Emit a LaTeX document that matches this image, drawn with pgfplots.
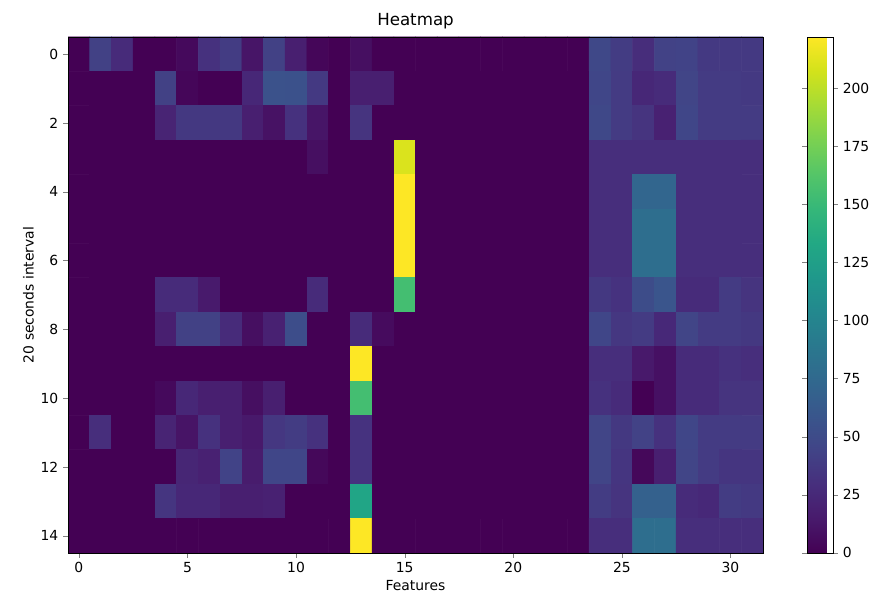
\documentclass[border=0pt]{standalone}
\usepackage{fontspec}
\setmainfont{DejaVu Sans}
\usepackage{pgfplots}
\pgfplotsset{compat=1.18}
\pgfplotsset{colormap={mplviridis}{
  rgb255=(68,1,84) rgb255=(72,26,108) rgb255=(71,47,125) rgb255=(65,68,135)
  rgb255=(57,86,140) rgb255=(49,104,142) rgb255=(42,120,142) rgb255=(35,136,142)
  rgb255=(31,152,139) rgb255=(34,168,132) rgb255=(53,183,121) rgb255=(84,197,104)
  rgb255=(122,209,81) rgb255=(165,219,54) rgb255=(210,226,27) rgb255=(253,231,37)}}
\begin{document}
\begin{tikzpicture}
\path[use as bounding box] (-49pt,-36pt) rectangle (579.6pt,398.1pt);
\begin{axis}[
  at={(0pt,0pt)}, anchor=south west,
  scale only axis, width=500.4pt, height=371.5pt,
  xmin=-0.5, xmax=31.5, ymin=-0.5, ymax=14.5,
  y dir=reverse, enlargelimits=false,
  axis on top,
  xtick={0,5,...,30}, ytick={0,2,...,14},
  tick align=outside, tick pos=left,
  major tick length=3.5pt,
  /pgf/number format/assume math mode=true,
  tick label style={font=\fontsize{10}{12}\selectfont},
  label style={font=\fontsize{10}{12}\selectfont},
  title style={font=\fontsize{12}{14}\selectfont, yshift=-4pt},
  title={Heatmap}, xlabel={Features}, ylabel={20 seconds interval},
  xlabel style={yshift=2pt}, ylabel style={yshift=-2pt},
  colormap name=mplviridis,
  point meta min=0, point meta max=222,
  colorbar,
  colorbar style={
    at={(parent axis.north east)}, anchor=north west, xshift=23.2pt,
    width=18.7pt, ytick={0,25,...,200},
    tick align=outside, major tick length=3.5pt,
    /pgf/number format/assume math mode=true,
    yticklabel style={font=\fontsize{10}{12}\selectfont},
  },
]
\addplot[matrix plot*, mesh/cols=32, point meta=explicit, draw=mapped color, line width=0.4pt] coordinates {
(0,0)[0] (1,0)[42] (2,0)[27] (3,0)[0] (4,0)[0] (5,0)[5] (6,0)[31] (7,0)[39] (8,0)[12] (9,0)[42] (10,0)[18] (11,0)[3] (12,0)[0] (13,0)[8] (14,0)[0] (15,0)[0] (16,0)[0] (17,0)[0] (18,0)[0] (19,0)[0] (20,0)[0] (21,0)[0] (22,0)[0] (23,0)[0] (24,0)[48] (25,0)[39] (26,0)[28] (27,0)[43] (28,0)[44] (29,0)[37] (30,0)[37] (31,0)[37]

(0,1)[0] (1,1)[0] (2,1)[0] (3,1)[0] (4,1)[42] (5,1)[3] (6,1)[0] (7,1)[0] (8,1)[24] (9,1)[56] (10,1)[55] (11,1)[37] (12,1)[0] (13,1)[18] (14,1)[18] (15,1)[0] (16,1)[0] (17,1)[0] (18,1)[0] (19,1)[0] (20,1)[0] (21,1)[0] (22,1)[0] (23,1)[0] (24,1)[46] (25,1)[38] (26,1)[24] (27,1)[27] (28,1)[45] (29,1)[38] (30,1)[38] (31,1)[37]

(0,2)[0] (1,2)[0] (2,2)[0] (3,2)[0] (4,2)[22] (5,2)[36] (6,2)[36] (7,2)[36] (8,2)[18] (9,2)[10] (10,2)[31] (11,2)[12] (12,2)[0] (13,2)[33] (14,2)[0] (15,2)[0] (16,2)[0] (17,2)[0] (18,2)[0] (19,2)[0] (20,2)[0] (21,2)[0] (22,2)[0] (23,2)[0] (24,2)[48] (25,2)[38] (26,2)[33] (27,2)[20] (28,2)[46] (29,2)[38] (30,2)[38] (31,2)[38]

(0,3)[0] (1,3)[0] (2,3)[0] (3,3)[0] (4,3)[0] (5,3)[0] (6,3)[0] (7,3)[0] (8,3)[0] (9,3)[0] (10,3)[0] (11,3)[8] (12,3)[0] (13,3)[0] (14,3)[0] (15,3)[210] (16,3)[0] (17,3)[0] (18,3)[0] (19,3)[0] (20,3)[0] (21,3)[0] (22,3)[0] (23,3)[0] (24,3)[29] (25,3)[29] (26,3)[29] (27,3)[29] (28,3)[29] (29,3)[29] (30,3)[29] (31,3)[29]

(0,4)[0] (1,4)[0] (2,4)[0] (3,4)[0] (4,4)[0] (5,4)[0] (6,4)[0] (7,4)[0] (8,4)[0] (9,4)[0] (10,4)[0] (11,4)[0] (12,4)[0] (13,4)[0] (14,4)[0] (15,4)[222] (16,4)[0] (17,4)[0] (18,4)[0] (19,4)[0] (20,4)[0] (21,4)[0] (22,4)[0] (23,4)[0] (24,4)[29] (25,4)[29] (26,4)[72] (27,4)[72] (28,4)[29] (29,4)[29] (30,4)[29] (31,4)[29]

(0,5)[0] (1,5)[0] (2,5)[0] (3,5)[0] (4,5)[0] (5,5)[0] (6,5)[0] (7,5)[0] (8,5)[0] (9,5)[0] (10,5)[0] (11,5)[0] (12,5)[0] (13,5)[0] (14,5)[0] (15,5)[222] (16,5)[0] (17,5)[0] (18,5)[0] (19,5)[0] (20,5)[0] (21,5)[0] (22,5)[0] (23,5)[0] (24,5)[29] (25,5)[29] (26,5)[80] (27,5)[80] (28,5)[29] (29,5)[29] (30,5)[29] (31,5)[29]

(0,6)[0] (1,6)[0] (2,6)[0] (3,6)[0] (4,6)[0] (5,6)[0] (6,6)[0] (7,6)[0] (8,6)[0] (9,6)[0] (10,6)[0] (11,6)[0] (12,6)[0] (13,6)[0] (14,6)[0] (15,6)[222] (16,6)[0] (17,6)[0] (18,6)[0] (19,6)[0] (20,6)[0] (21,6)[0] (22,6)[0] (23,6)[0] (24,6)[29] (25,6)[29] (26,6)[80] (27,6)[80] (28,6)[29] (29,6)[29] (30,6)[29] (31,6)[29]

(0,7)[0] (1,7)[0] (2,7)[0] (3,7)[0] (4,7)[27] (5,7)[27] (6,7)[15] (7,7)[0] (8,7)[0] (9,7)[0] (10,7)[0] (11,7)[27] (12,7)[0] (13,7)[0] (14,7)[0] (15,7)[155] (16,7)[0] (17,7)[0] (18,7)[0] (19,7)[0] (20,7)[0] (21,7)[0] (22,7)[0] (23,7)[0] (24,7)[36] (25,7)[32] (26,7)[51] (27,7)[58] (28,7)[27] (29,7)[27] (30,7)[38] (31,7)[33]

(0,8)[0] (1,8)[0] (2,8)[0] (3,8)[0] (4,8)[18] (5,8)[42] (6,8)[42] (7,8)[27] (8,8)[8] (9,8)[20] (10,8)[52] (11,8)[0] (12,8)[0] (13,8)[27] (14,8)[6] (15,8)[0] (16,8)[0] (17,8)[0] (18,8)[0] (19,8)[0] (20,8)[0] (21,8)[0] (22,8)[0] (23,8)[0] (24,8)[46] (25,8)[35] (26,8)[38] (27,8)[25] (28,8)[45] (29,8)[38] (30,8)[38] (31,8)[36]

(0,9)[0] (1,9)[0] (2,9)[0] (3,9)[0] (4,9)[0] (5,9)[0] (6,9)[0] (7,9)[0] (8,9)[0] (9,9)[0] (10,9)[0] (11,9)[0] (12,9)[0] (13,9)[222] (14,9)[0] (15,9)[0] (16,9)[0] (17,9)[0] (18,9)[0] (19,9)[0] (20,9)[0] (21,9)[0] (22,9)[0] (23,9)[0] (24,9)[29] (25,9)[29] (26,9)[14] (27,9)[9] (28,9)[27] (29,9)[27] (30,9)[31] (31,9)[29]

(0,10)[0] (1,10)[0] (2,10)[0] (3,10)[0] (4,10)[5] (5,10)[24] (6,10)[18] (7,10)[18] (8,10)[8] (9,10)[18] (10,10)[0] (11,10)[0] (12,10)[0] (13,10)[155] (14,10)[0] (15,10)[0] (16,10)[0] (17,10)[0] (18,10)[0] (19,10)[0] (20,10)[0] (21,10)[0] (22,10)[0] (23,10)[0] (24,10)[31] (25,10)[27] (26,10)[0] (27,10)[9] (28,10)[27] (29,10)[27] (30,10)[33] (31,10)[33]

(0,11)[0] (1,11)[29] (2,11)[0] (3,11)[0] (4,11)[22] (5,11)[11] (6,11)[31] (7,11)[18] (8,11)[14] (9,11)[35] (10,11)[39] (11,11)[31] (12,11)[0] (13,11)[32] (14,11)[0] (15,11)[0] (16,11)[0] (17,11)[0] (18,11)[0] (19,11)[0] (20,11)[0] (21,11)[0] (22,11)[0] (23,11)[0] (24,11)[45] (25,11)[36] (26,11)[43] (27,11)[31] (28,11)[46] (29,11)[38] (30,11)[38] (31,11)[38]

(0,12)[0] (1,12)[0] (2,12)[0] (3,12)[0] (4,12)[0] (5,12)[23] (6,12)[20] (7,12)[44] (8,12)[16] (9,12)[46] (10,12)[46] (11,12)[4] (12,12)[0] (13,12)[32] (14,12)[0] (15,12)[0] (16,12)[0] (17,12)[0] (18,12)[0] (19,12)[0] (20,12)[0] (21,12)[0] (22,12)[0] (23,12)[0] (24,12)[45] (25,12)[34] (26,12)[4] (27,12)[18] (28,12)[45] (29,12)[38] (30,12)[34] (31,12)[34]

(0,13)[0] (1,13)[0] (2,13)[0] (3,13)[0] (4,13)[34] (5,13)[24] (6,13)[24] (7,13)[18] (8,13)[18] (9,13)[20] (10,13)[0] (11,13)[0] (12,13)[0] (13,13)[130] (14,13)[0] (15,13)[0] (16,13)[0] (17,13)[0] (18,13)[0] (19,13)[0] (20,13)[0] (21,13)[0] (22,13)[0] (23,13)[0] (24,13)[39] (25,13)[33] (26,13)[68] (27,13)[68] (28,13)[27] (29,13)[25] (30,13)[39] (31,13)[37]

(0,14)[0] (1,14)[0] (2,14)[0] (3,14)[0] (4,14)[0] (5,14)[0] (6,14)[0] (7,14)[0] (8,14)[0] (9,14)[0] (10,14)[0] (11,14)[0] (12,14)[0] (13,14)[222] (14,14)[0] (15,14)[0] (16,14)[0] (17,14)[0] (18,14)[0] (19,14)[0] (20,14)[0] (21,14)[0] (22,14)[0] (23,14)[0] (24,14)[29] (25,14)[29] (26,14)[80] (27,14)[80] (28,14)[29] (29,14)[29] (30,14)[29] (31,14)[29]
};
\end{axis}
\end{tikzpicture}
\end{document}
